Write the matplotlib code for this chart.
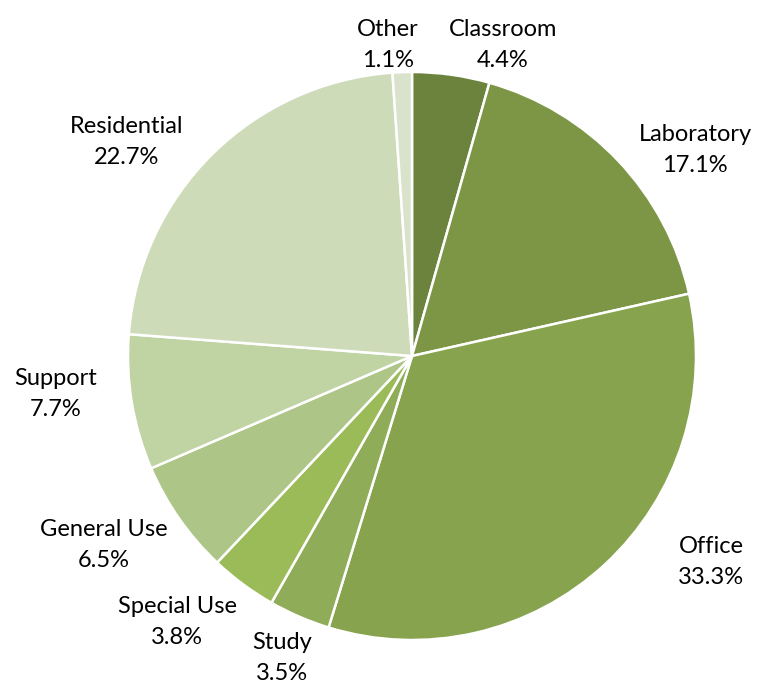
import matplotlib
matplotlib.use("Agg")
import matplotlib.pyplot as plt

categories = ["Classroom", "Laboratory", "Office", "Study", "Special Use",
              "General Use", "Support", "Residential", "Other"]
values = [4.4, 17.1, 33.3, 3.5, 3.8, 6.5, 7.7, 22.7, 1.1]
colors = ["#6b833d", "#7c9646", "#87a34e", "#8fac58", "#9bbb59",
          "#adc687", "#c0d3a3", "#cedbb9", "#d9e3cb"]
# label centre positions in pixel coordinates (x, y from top)
label_pos = [(503, 45), (695, 150), (711, 562), (282, 658), (177, 622),
             (104, 545), (56, 394), (127, 142), (388, 45)]

W, H = 773, 688
fig = plt.figure(figsize=(W / 100, H / 100), dpi=100)
ax = fig.add_axes([0, 0, 1, 1])
ax.set_xlim(0, W)
ax.set_ylim(0, H)
ax.set_aspect("equal")
ax.axis("off")

ax.pie(values, colors=colors, startangle=90, counterclock=False,
       center=(412, H - 356), radius=284, frame=True,
       wedgeprops=dict(edgecolor="white", linewidth=1.8))
ax.set_xlim(0, W)
ax.set_ylim(0, H)
ax.axis("off")

for name, v, (px, py) in zip(categories, values, label_pos):
    ax.text(px, H - py, f"{name}\n{v:.1f}%", ha="center", va="center",
            fontsize=17, family="Lato", color="#000000", linespacing=1.55)

fig.savefig("out.png", dpi=100)
